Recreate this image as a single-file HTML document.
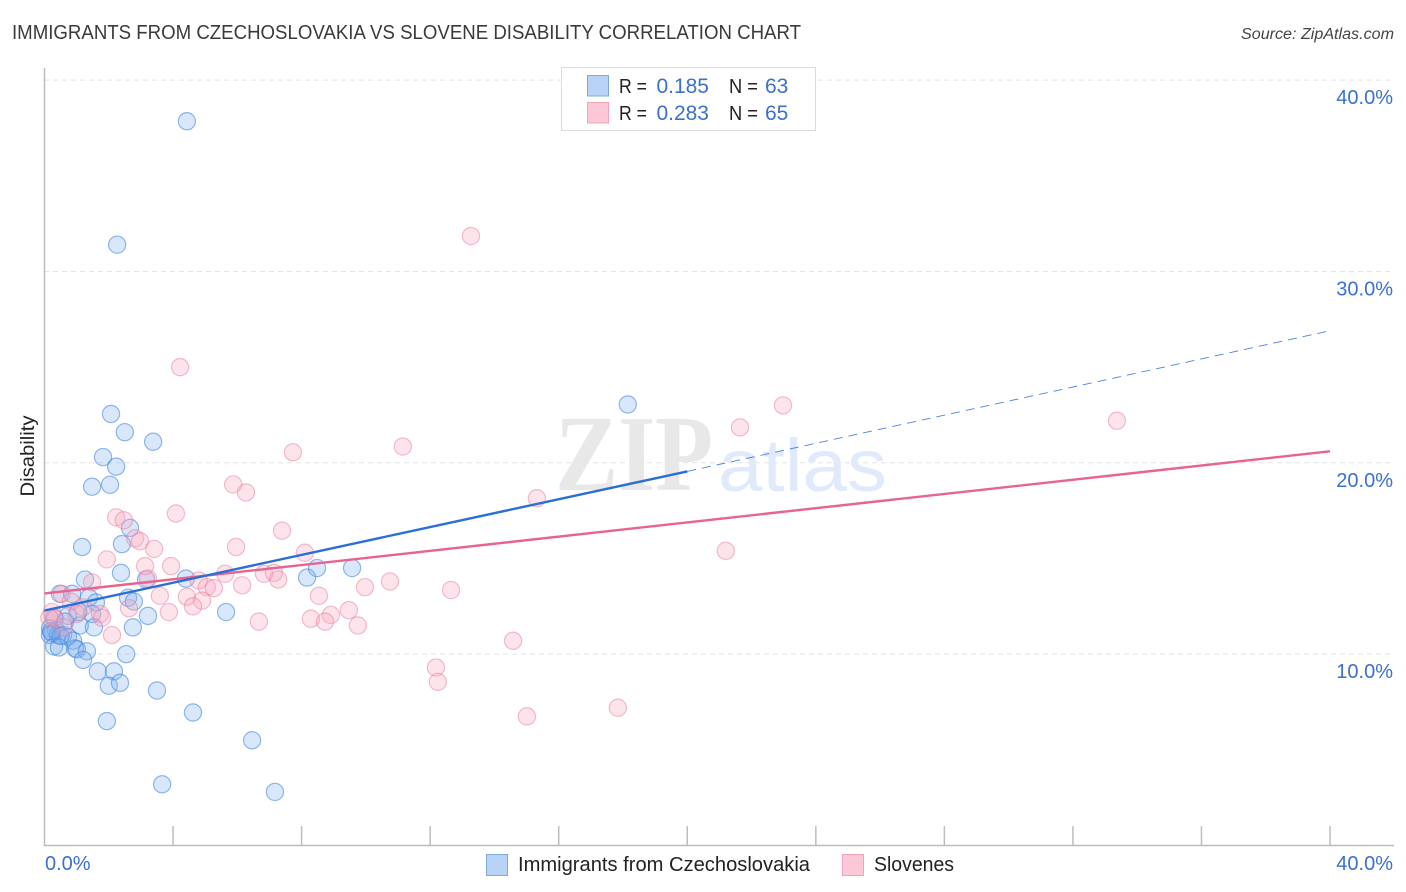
<!DOCTYPE html>
<html lang="en">
<head>
<meta charset="utf-8">
<title>Immigrants from Czechoslovakia vs Slovene Disability Correlation Chart</title>
<style>
html,body{margin:0;padding:0;background:#fff;}
body{width:1406px;height:892px;overflow:hidden;font-family:"Liberation Sans",sans-serif;}
svg{display:block;}
text{font-family:"Liberation Sans",sans-serif;}
</style>
</head>
<body>
<svg id="chart" xmlns="http://www.w3.org/2000/svg" width="1406" height="892" viewBox="0 0 1406 892">
  <text x="12" y="39" font-size="20" fill="#3a3a3a" textLength="789" lengthAdjust="spacingAndGlyphs">IMMIGRANTS FROM CZECHOSLOVAKIA VS SLOVENE DISABILITY CORRELATION CHART</text>
  <text x="1394" y="39" font-size="15.5" font-style="italic" fill="#444" text-anchor="end" textLength="153" lengthAdjust="spacingAndGlyphs">Source: ZipAtlas.com</text>
  <g id="grid"></g>
  <g>
    <text x="555" y="490" font-size="108" font-weight="bold" fill="#e8e8e8" style="font-family:'Liberation Serif',serif" textLength="158" lengthAdjust="spacingAndGlyphs">ZIP</text>
    <text x="718" y="491" font-size="74" fill="#e0eafa" textLength="169" lengthAdjust="spacingAndGlyphs">atlas</text>
  </g>
  <g id="axes"></g>
  <g id="blue-points"></g>
  <g id="pink-points"></g>
  <g id="trends"></g>
  <text transform="translate(34 456) rotate(-90)" font-size="19" fill="#222" text-anchor="middle" textLength="81" lengthAdjust="spacingAndGlyphs">Disability</text>
  <g>
    <rect x="561.5" y="67.5" width="254" height="63" fill="#fff" stroke="#dcdcdc"/>
    <rect x="587.5" y="75.5" width="21" height="20.5" fill="#b9d3f6" stroke="#7fa9e0"/>
    <rect x="587.5" y="102.5" width="21" height="20.5" fill="#fcc8d8" stroke="#f0a3bb"/>
    <text x="619" y="93" font-size="20" fill="#222" textLength="28" lengthAdjust="spacingAndGlyphs">R =</text>
    <text x="709" y="93" font-size="21" fill="#3a70d0" text-anchor="end">0.185</text>
    <text x="729" y="93" font-size="20" fill="#222" textLength="29" lengthAdjust="spacingAndGlyphs">N =</text>
    <text x="765" y="93" font-size="21" fill="#3a70d0">63</text>
    <text x="619" y="120" font-size="20" fill="#222" textLength="28" lengthAdjust="spacingAndGlyphs">R =</text>
    <text x="709" y="120" font-size="21" fill="#3a70d0" text-anchor="end">0.283</text>
    <text x="729" y="120" font-size="20" fill="#222" textLength="29" lengthAdjust="spacingAndGlyphs">N =</text>
    <text x="765" y="120" font-size="21" fill="#3a70d0">65</text>
  </g>
  <g>
    <rect x="486.5" y="854.5" width="21" height="21" fill="#b9d3f6" stroke="#7fa9e0"/>
    <text x="518" y="871" font-size="20" fill="#222" textLength="292" lengthAdjust="spacingAndGlyphs">Immigrants from Czechoslovakia</text>
    <rect x="842.5" y="854.5" width="21" height="21" fill="#fcc8d8" stroke="#f0a3bb"/>
    <text x="874" y="871" font-size="20" fill="#222" textLength="80" lengthAdjust="spacingAndGlyphs">Slovenes</text>
  </g>
</svg>
<script>
const yTicks = [10, 20, 30, 40];
const yTickLabels = ["10.0%", "20.0%", "30.0%", "40.0%"];
const xTicks = [4, 8, 12, 16, 20, 24, 28, 32, 36, 40];
const xEndLabels = ["0.0%", "40.0%"];
const blueX = [4.43,2.26,18.15,2.07,2.5,3.38,1.82,2.23,1.48,2.04,2.66,2.41,1.17,2.38,1.26,3.16,4.4,8.17,8.48,9.57,0.48,0.86,1.38,1.6,2.6,2.78,5.65,3.22,1.48,0.73,0.3,0.64,1.1,1.54,2.75,0.17,0.36,0.23,0.42,0.17,0.58,0.73,0.89,0.3,0.45,0.95,1.01,1.32,2.54,1.2,1.66,2.16,2.0,2.35,3.5,1.94,4.62,6.46,3.66,7.17,0.2,0.5,1.05];
const blueY = [37.85,31.4,23.05,22.55,21.6,21.1,20.3,19.8,18.75,18.85,16.6,15.75,15.6,14.25,13.9,13.9,13.95,14.0,14.5,14.5,13.15,13.15,12.95,12.7,12.95,12.75,12.2,12.0,12.1,12.0,11.9,11.7,11.5,11.4,11.4,11.35,11.25,11.1,11.0,11.0,11.0,10.9,10.7,10.4,10.35,10.3,10.25,10.15,10.0,9.7,9.1,9.1,8.35,8.5,8.1,6.5,6.95,5.5,3.2,2.8,11.2,10.95,12.2];
const pinkX = [13.27,4.22,22.98,33.37,21.64,11.15,7.73,5.87,6.27,15.32,4.09,2.23,2.47,7.39,2.82,2.97,3.41,5.96,21.2,8.1,1.94,3.13,3.94,5.62,6.83,7.14,3.22,4.8,7.27,10.75,1.48,5.05,5.27,6.15,9.97,12.65,0.54,3.59,4.43,8.54,4.9,0.82,1.2,4.62,2.63,3.87,9.47,8.91,1.73,0.23,8.29,8.73,6.67,9.75,0.33,1.79,14.58,2.1,12.18,12.24,17.84,15.01,0.15,0.6,1.0];
const pinkY = [31.85,25,23,22.2,21.85,20.85,20.55,18.87,18.45,18.15,17.35,17.15,17,16.45,16.05,15.9,15.5,15.6,15.4,15.3,14.95,14.6,14.6,14.2,14.2,14.25,13.95,13.85,13.9,13.8,13.75,13.5,13.45,13.6,13.5,13.35,13.15,13.05,13,13.05,12.8,12.75,12.45,12.5,12.4,12.2,12.3,12.05,12.1,12.2,11.85,11.7,11.7,11.5,11.85,11.9,10.7,11,9.3,8.55,7.2,6.75,11.9,11.4,12.1];
const blueTrendX = [0, 20, 40];
const blueTrendY = [12.28, 19.55, 26.9];
const pinkTrendX = [0, 40];
const pinkTrendY = [13.17, 20.6];

const NS = "http://www.w3.org/2000/svg";
function xScale(v) { return 44.5 + v * 32.138; }
function yScale(v) { return 845.5 - v * 19.135; }
function make(parent, tag, attrs, text) {
  const el = document.createElementNS(NS, tag);
  for (const k in attrs) el.setAttribute(k, attrs[k]);
  if (text !== undefined) el.textContent = text;
  document.getElementById(parent).appendChild(el);
  return el;
}

yTicks.forEach(function (t, i) {
  const line = make("grid", "line", {x1: 44, x2: 1394, y1: yScale(t), y2: yScale(t), stroke: "#e4e4e4", "stroke-width": 1, "stroke-dasharray": "5 4"});
  
  
  const label = make("axes", "text", {x: 1393, y: yScale(t) + 24, "font-size": 20, fill: "#3a70d0", "text-anchor": "end"}, yTickLabels[i]);
  
  
});

const yAxis = make("axes", "line", {x1: 44.5, x2: 44.5, y1: 68, y2: 846, stroke: "#bdbdbd", "stroke-width": 1.5});


const xAxis = make("axes", "line", {x1: 44, x2: 1394, y1: 845.5, y2: 845.5, stroke: "#bdbdbd", "stroke-width": 1.5});



xTicks.forEach(function (t) {
  const tick = make("axes", "line", {x1: xScale(t), x2: xScale(t), y1: 826, y2: 845.5, stroke: "#bdbdbd", "stroke-width": 1.5});
  
  
});

const xLabelStart = make("axes", "text", {x: 45, y: 870, "font-size": 20, fill: "#3a70d0"}, xEndLabels[0]);


const xLabelEnd = make("axes", "text", {x: 1393, y: 870, "font-size": 20, fill: "#3a70d0", "text-anchor": "end"}, xEndLabels[1]);



blueX.forEach(function (v, i) {
  const c = make("blue-points", "circle", {cx: xScale(v), cy: yScale(blueY[i]), r: 8.6, fill: "rgba(125,175,238,0.3)", stroke: "rgba(60,130,222,0.55)", "stroke-width": 1.2});
  
  
});
pinkX.forEach(function (v, i) {
  const c = make("pink-points", "circle", {cx: xScale(v), cy: yScale(pinkY[i]), r: 8.6, fill: "rgba(248,165,190,0.3)", stroke: "rgba(232,125,160,0.5)", "stroke-width": 1.2});
  
  
});

const pinkLine = make("trends", "line", {x1: xScale(pinkTrendX[0]), y1: yScale(pinkTrendY[0]), x2: xScale(pinkTrendX[1]), y2: yScale(pinkTrendY[1]), stroke: "#e8638f", "stroke-width": 2.4});


const blueSolid = make("trends", "line", {x1: xScale(blueTrendX[0]), y1: yScale(blueTrendY[0]), x2: xScale(blueTrendX[1]), y2: yScale(blueTrendY[1]), stroke: "#2a6fd6", "stroke-width": 2.4});


const blueDash = make("trends", "line", {x1: xScale(blueTrendX[1]), y1: yScale(blueTrendY[1]), x2: xScale(blueTrendX[2]), y2: yScale(blueTrendY[2]), stroke: "#2a6fd6", "stroke-width": 0.9, "stroke-opacity": 0.85, "stroke-dasharray": "9 6"});


</script>
</body>
</html>
